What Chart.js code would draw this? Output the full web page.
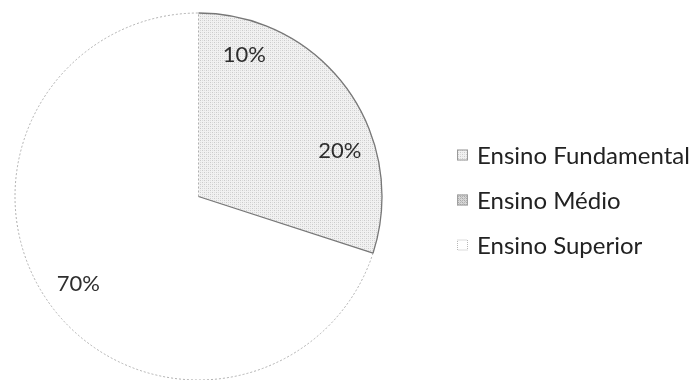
<!DOCTYPE html>
<html>
<head>
<meta charset="utf-8">
<script src="https://cdn.jsdelivr.net/npm/chart.js@4.4.1/dist/chart.umd.min.js"></script>
<style>
  html, body { margin: 0; padding: 0; background: #ffffff; overflow: hidden; }
  #wrap { position: absolute; left: 0; top: 0; width: 692px; height: 394px; }
</style>
</head>
<body>
<div id="wrap"><canvas id="pie"></canvas></div>
<script>
// Education level shares (percent)
const categories = ['Ensino Fundamental', 'Ensino Médio', 'Ensino Superior'];
const shares = [10, 20, 70];

const FONT = 'Lato, "Open Sans", sans-serif';

// Fine dotted texture, like a printed grey fill
function dotPattern(bg, dots, size) {
  const c = document.createElement('canvas');
  c.width = size; c.height = size;
  const g = c.getContext('2d');
  g.fillStyle = bg;
  g.fillRect(0, 0, size, size);
  dots.forEach(([x, y, col]) => { g.fillStyle = col; g.fillRect(x, y, 1, 1); });
  return g.createPattern(c, 'repeat');
}

const ctx0 = document.getElementById('pie').getContext('2d');
const greyFill = dotPattern('#f1f1f1', [[0, 0, '#cbcbcb'], [2, 2, '#cbcbcb'], [2, 0, '#dcdcdc'], [0, 2, '#dcdcdc']], 4);
const midFill = dotPattern('#d6d6d6', [[0, 0, '#a8a8a8'], [1, 1, '#bcbcbc'], [2, 0, '#b0b0b0'], [0, 2, '#b4b4b4'], [2, 2, '#a8a8a8'], [3, 3, '#c0c0c0']], 4);

const sliceFills = [greyFill, greyFill, '#ffffff'];
const legendFills = [greyFill, midFill, '#ffffff'];
const legendBorders = ['#9a9a9a', '#a0a0a0', '#b8b8b8'];

// Slice outlines: dark edge around the grey sector, faint dotted edge elsewhere
const outlinePlugin = {
  id: 'outline',
  afterDatasetsDraw(chart) {
    const arcs = chart.getDatasetMeta(0).data;
    const { ctx } = chart;
    const a0 = arcs[0], a1 = arcs[1], a2 = arcs[2];
    const cx = a0.x, cy = a0.y, r = a0.outerRadius;
    ctx.save();
    // faint dotted outline of the large slice
    ctx.strokeStyle = '#b0b0b0';
    ctx.lineWidth = 1;
    ctx.setLineDash([2, 2]);
    ctx.beginPath();
    ctx.arc(cx, cy, r, a2.startAngle, a2.endAngle);
    ctx.stroke();
    ctx.beginPath();
    ctx.moveTo(cx, cy);
    ctx.lineTo(cx + Math.cos(a0.startAngle) * r, cy + Math.sin(a0.startAngle) * r);
    ctx.stroke();
    // darker outline of the grey sector
    ctx.setLineDash([]);
    ctx.strokeStyle = '#777777';
    ctx.lineWidth = 1.3;
    ctx.beginPath();
    ctx.arc(cx, cy, r, a0.startAngle, a1.endAngle);
    ctx.stroke();
    ctx.beginPath();
    ctx.moveTo(cx, cy);
    ctx.lineTo(cx + Math.cos(a1.endAngle) * r, cy + Math.sin(a1.endAngle) * r);
    ctx.stroke();
    ctx.restore();
  }
};

// Percentage labels inside each slice
const valueLabelPlugin = {
  id: 'valueLabels',
  afterDatasetsDraw(chart) {
    const arcs = chart.getDatasetMeta(0).data;
    const values = chart.data.datasets[0].data;
    const { ctx } = chart;
    ctx.save();
    ctx.font = '22px ' + FONT;
    ctx.fillStyle = '#2e2e2e';
    ctx.textAlign = 'center';
    ctx.textBaseline = 'middle';
    arcs.forEach((arc, i) => {
      const mid = (arc.startAngle + arc.endAngle) / 2;
      const rr = arc.outerRadius * 0.81;
      ctx.fillText(values[i] + '%', arc.x + Math.cos(mid) * rr, arc.y + Math.sin(mid) * rr);
    });
    ctx.restore();
  }
};

// Legend at the right side
const sideLegendPlugin = {
  id: 'sideLegend',
  afterDraw(chart) {
    const { ctx } = chart;
    const labels = chart.data.labels;
    const x0 = 457, y0 = 155, step = 45, box = 11;
    ctx.save();
    ctx.font = '24px ' + FONT;
    ctx.textBaseline = 'middle';
    ctx.textAlign = 'left';
    labels.forEach((lab, i) => {
      const y = y0 + i * step;
      ctx.fillStyle = legendFills[i];
      ctx.fillRect(x0, y - box / 2, box, box);
      ctx.strokeStyle = legendBorders[i];
      ctx.lineWidth = 1;
      if (i === 2) ctx.setLineDash([1, 1]);
      ctx.strokeRect(x0 + 0.5, y - box / 2 + 0.5, box - 1, box - 1);
      ctx.setLineDash([]);
      ctx.fillStyle = '#222222';
      ctx.fillText(lab, x0 + 20, y + 1);
    });
    ctx.restore();
  }
};

new Chart(ctx0, {
  type: 'pie',
  data: {
    labels: categories,
    datasets: [{
      data: shares,
      backgroundColor: sliceFills,
      borderWidth: 0,
      hoverOffset: 0
    }]
  },
  options: {
    responsive: true,
    maintainAspectRatio: false,
    animation: false,
    events: [],
    rotation: 0,
    layout: { padding: { left: 15, right: 310, top: 13, bottom: 14 } },
    plugins: {
      legend: { display: false },
      tooltip: { enabled: false }
    }
  },
  plugins: [outlinePlugin, valueLabelPlugin, sideLegendPlugin]
});
</script>
</body>
</html>
